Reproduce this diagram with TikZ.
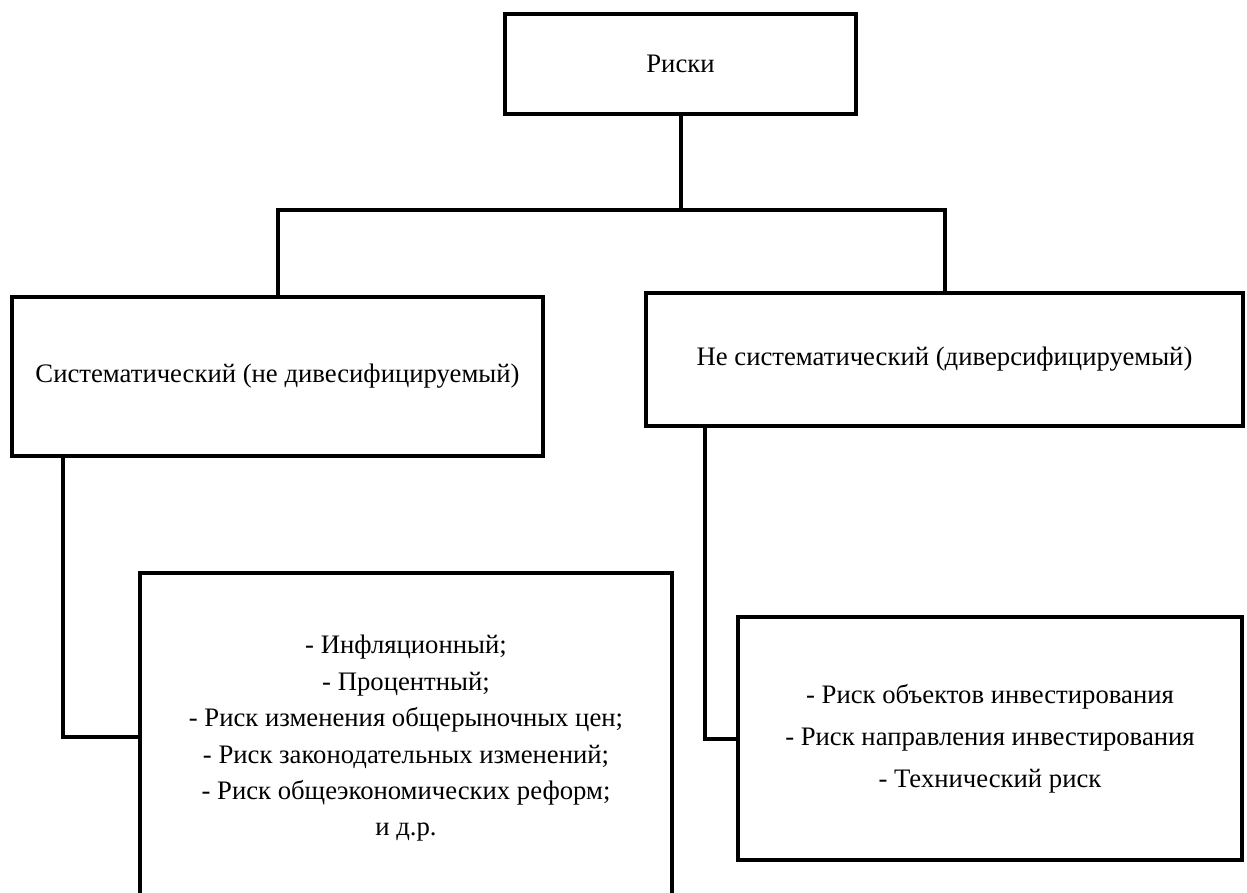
\documentclass[tikz,border=0pt]{standalone}
\usepackage{fontspec}
\setmainfont{Liberation Serif}
\newfontfamily\riskfont{Liberation Serif}
\usetikzlibrary{positioning}
\newcommand{\rsk}{- Риск}

\begin{document}
\begin{tikzpicture}[x=1pt,y=-1pt]
                        \tikzstyle{every node}=[font=\riskfont\fontsize{26.7}{30}\selectfont]
                        \tikzstyle{riskbox}=[draw, line width=4pt, inner sep=0pt, align=center]
                        \tikzstyle{link}=[line width=4pt]
                        \clip (0,0) rectangle (1247,892);
                        \node[riskbox, minimum width=351pt, minimum height=100pt] (risks) at (680.5,64) {Риски};
                        \node[riskbox, minimum width=531pt, minimum height=159pt] (sys) at (277.5,376.5) {Систематический (не дивесифицируемый)};
                        \node[riskbox, minimum width=597pt, minimum height=133pt] (nonsys) at (944.5,359.5) {Не систематический (диверсифицируемый)};
                        \node[riskbox, minimum width=532pt, minimum height=327pt] (syslist) at (406,736.5) {};
                        \node[riskbox, minimum width=504pt, minimum height=243pt] (nonsyslist) at (990,738.5) {};
                        \node[align=center, font=\riskfont\fontsize{26.7}{36.4}\selectfont] (syslisttext) at ([yshift=-2pt]syslist.center)
                            {- Инфляционный;\\
                             - Процентный;\\
                             \rsk{} изменения общерыночных цен;\\
                             \rsk{} законодательных изменений;\\
                             \rsk{} общеэкономических реформ;\\
                             и д.р.};
                        \node[align=center, font=\riskfont\fontsize{26.7}{42}\selectfont] (nonsyslisttext) at (nonsyslist.center)
                            {\rsk{} объектов инвестирования\\
                             \rsk{} направления инвестирования\\
                             - Технический риск};
                        \coordinate (bar) at (0,210);
                        \draw[link] (risks.south) -- (risks.south |- bar);
                        \draw[link] (sys.north) |- (risks.south |- bar) -| (nonsys.north);
                        \draw[link] ([xshift=53pt]sys.south west) |- (syslist.west);
                        \draw[link] ([xshift=61pt]nonsys.south west) |- (nonsyslist.west);
                    \end{tikzpicture}
\end{document}
